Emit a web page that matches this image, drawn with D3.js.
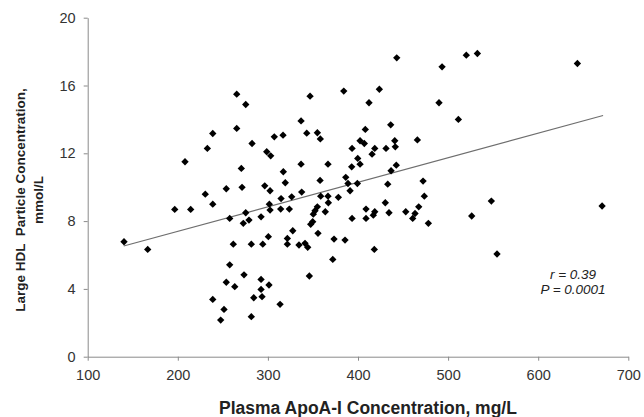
<!DOCTYPE html>
<html>
<head>
<meta charset="utf-8">
<script src="https://cdn.jsdelivr.net/npm/d3@7"></script>
<style>
  html, body { margin: 0; padding: 0; background: #fff; }
  svg { display: block; font-family: "Liberation Sans", Arial, sans-serif; }
</style>
</head>
<body>
<svg id="chart" width="644" height="417"></svg>
<script>
// ApoA-I (mg/L) values
const apoA = [
  265.4,275.4,265.4,238.8,307.1,232.8,282.4,298.7,303.1,208.0,270.5,253.8,271.3,296.5,302.4,230.5,314.6,
  443.0,346.8,384.2,423.7,412.2,336.8,436.3,316.8,343.1,354.9,358.2,408.1,402.3,407.0,440.8,441.4,465.9,
  393.4,418.6,415.6,431.1,399.7,402.3,393.0,336.8,366.7,442.5,436.7,317.1,319.3,357.9,386.4,388.9,399.3,
  433.0,472.2,337.5,391.2,473.6,326.4,358.6,366.7,378.2,
  493.3,520.2,532.5,643.5,489.9,511.4,
  238.8,196.6,214.3,257.6,275.4,279.0,272.7,292.4,301.6,302.4,140.3,166.6,261.6,281.6,294.3,300.5,257.6,
  273.5,253.8,263.2,292.4,292.4,301.2,238.8,284.3,293.5,251.3,247.6,281.6,
  314.2,323.8,367.1,354.9,352.3,350.4,363.7,349.7,347.5,430.3,408.9,418.6,417.0,408.9,393.4,434.4,453.0,
  467.4,463.3,460.7,478.1,327.6,321.6,321.6,334.5,341.2,344.2,355.6,373.4,385.6,418.1,372.0,346.0,313.5,
  526.2,548.0,554.3,670.9
];
// Large HDL particle concentration (mmol/L) values
const largeHDL = [
  15.49,14.88,13.47,13.17,12.97,12.29,12.58,12.09,11.85,11.50,11.11,9.91,9.99,10.08,9.79,9.59,9.33,
  17.63,15.37,15.67,15.78,14.98,13.91,13.68,13.07,13.19,13.21,12.85,13.41,12.74,12.58,12.74,12.38,12.79,
  12.29,12.29,11.95,12.29,11.70,11.36,11.20,11.36,11.36,11.30,10.97,10.91,10.26,10.40,10.58,10.22,10.22,
  10.18,10.36,9.71,9.79,9.47,9.43,9.47,9.47,9.40,
  17.10,17.79,17.89,17.30,14.98,14.00,
  9.00,8.69,8.69,8.16,8.49,8.06,7.87,8.25,9.00,8.65,6.78,6.33,6.64,6.64,6.64,7.08,5.42,
  4.83,4.39,4.13,4.56,3.97,4.23,3.38,3.48,3.54,2.79,2.16,2.36,
  8.71,8.71,9.08,8.84,8.61,8.41,8.55,7.96,7.81,9.08,8.71,8.55,8.35,8.16,8.16,8.49,8.55,
  8.84,8.45,8.16,7.87,7.43,6.98,6.64,6.59,6.69,6.45,7.28,6.94,6.88,6.33,5.74,4.76,3.09,
  8.30,9.18,6.06,8.89
];
// regression line end points (x range of the fitted line)
const fitX = [140, 672];
const fitY = [6.53, 14.23];

const xTicks = [100, 200, 300, 400, 500, 600, 700];
const yTicks = [0, 4, 8, 12, 16, 20];

const xTitle = "Plasma ApoA-I Concentration, mg/L";
const yTitleLines = ["Large HDL  Particle Concentration,", "mmol/L"];
const statLines = ["r = 0.39", "P = 0.0001"];

const svg = d3.select("#chart");
const mLeft = 87.7, mRight = 628.3, mTop = 17.7, mBottom = 356.7;

const x = d3.scaleLinear().domain([100, 700]).range([mLeft, mRight]);
const y = d3.scaleLinear().domain([0, 20]).range([mBottom, mTop]);

const axisColor = "#8a8a8a";
const textColor = "#333";

// X axis
const gx = svg.append("g")
  .attr("transform", `translate(0,${mBottom})`)
  .call(d3.axisBottom(x).tickValues(xTicks).tickSize(4).tickSizeOuter(0).tickPadding(9));
// Y axis
const gy = svg.append("g")
  .attr("transform", `translate(${mLeft},0)`)
  .call(d3.axisLeft(y).tickValues(yTicks).tickSize(4).tickSizeOuter(0).tickPadding(8));

[gx, gy].forEach(g => {
  g.select(".domain").attr("stroke", axisColor).attr("stroke-width", 1);
  g.selectAll(".tick line").attr("stroke", axisColor);
  g.selectAll(".tick text").attr("fill", textColor).style("font-size", "14.5px")
    .style("font-family", '"Liberation Sans", Arial, sans-serif');
});

// regression line
svg.append("line")
  .attr("x1", x(fitX[0])).attr("y1", y(fitY[0]))
  .attr("x2", x(fitX[1])).attr("y2", y(fitY[1]))
  .attr("stroke", "#6e6e6e").attr("stroke-width", 1.2);

// points (diamonds)
const pts = apoA.map((v, i) => [v, largeHDL[i]]);
const sym = d3.symbol().type(d3.symbolSquare).size(27);
svg.append("g").selectAll("path").data(pts).join("path")
  .attr("d", sym)
  .attr("transform", d => `translate(${x(d[0])},${y(d[1])}) rotate(45)`)
  .attr("fill", "#000");

// stats text
svg.append("g").selectAll("text").data(statLines).join("text")
  .attr("x", 573).attr("y", (d, i) => 279 + i * 15)
  .attr("text-anchor", "middle")
  .style("font-size", "13.5px").style("font-style", "italic")
  .attr("fill", "#222")
  .text(d => d);

// x title
svg.append("text")
  .attr("x", 368).attr("y", 414)
  .attr("text-anchor", "middle")
  .style("font-size", "17.5px").style("font-weight", "bold")
  .attr("fill", "#222")
  .text(xTitle);

// y title
const yt = svg.append("text")
  .attr("transform", `translate(25,200) rotate(-90)`)
  .attr("text-anchor", "middle")
  .style("font-size", "13.5px").style("font-weight", "bold")
  .attr("fill", "#222");
yt.selectAll("tspan").data(yTitleLines).join("tspan")
  .attr("x", 0).attr("dy", (d, i) => i === 0 ? 0 : 18)
  .attr("xml:space", "preserve")
  .text(d => d);
</script>
</body>
</html>
